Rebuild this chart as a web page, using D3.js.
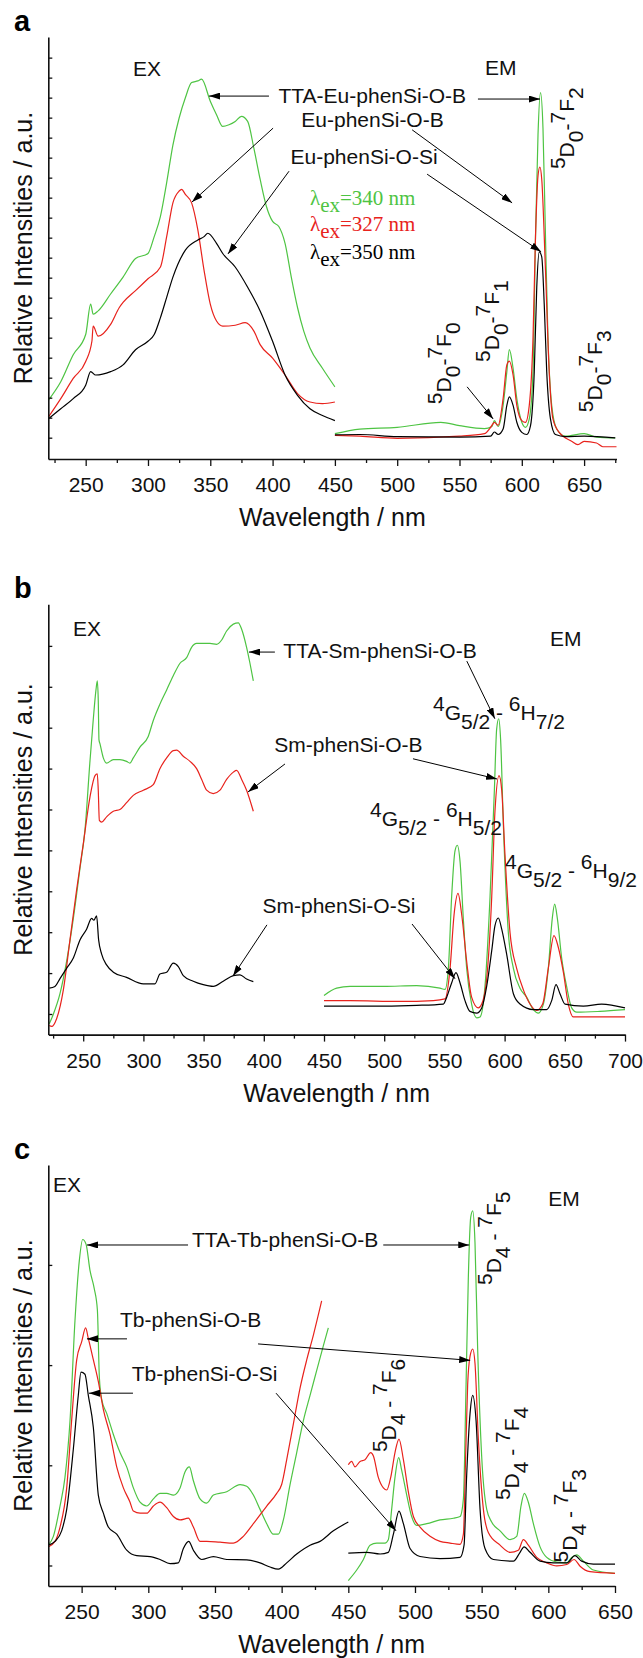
<!DOCTYPE html>
<html>
<head>
<meta charset="utf-8">
<script src="https://cdn.jsdelivr.net/npm/d3@7"></script>
<style>
  body { margin: 0; background: #fff; }
  svg text { font-family: "Liberation Sans", Arial, Helvetica, sans-serif; white-space: pre; }
</style>
</head>
<body>
<div id="chart"></div>
<script>
// ---- panel a : Eu ----
const aMajor = [250, 300, 350, 400, 450, 500, 550, 600, 650];
const aMinor = [225, 275, 325, 375, 425, 475, 525, 575, 625, 675];
const aExGreen = [[220,13.9],[230,18.3],[240,24.7],[250,29.5],[254,36.7],[256,34.3],[260,35.1],[270,39.1],[280,43.1],[290,47.5],[300,48.7],[305,52.7],[310,57.5],[315,65.5],[320,74.4],[325,80.8],[330,85.6],[335,89.2],[340,89.6],[343,90.0],[350,84.8],[355,81.6],[360,78.8],[365,79.2],[370,80.0],[375,81.2],[380,80.0],[385,73.6],[390,66.3],[395,59.9],[400,56.3],[405,55.1],[410,51.1],[415,43.1],[420,35.9],[425,30.3],[430,26.3],[440,21.5],[450,17.1]];
const aExRed = [[220,9.9],[230,14.3],[240,19.1],[250,23.1],[255,27.9],[256,31.5],[260,29.1],[270,31.9],[277,35.9],[280,37.1],[290,39.9],[300,42.7],[310,45.5],[315,52.7],[320,60.7],[325,63.5],[327,63.9],[330,62.7],[335,60.7],[340,54.3],[345,44.7],[350,36.7],[355,32.7],[360,31.5],[370,31.7],[378,32.3],[385,30.3],[390,27.1],[400,23.9],[410,19.9],[420,15.5],[430,13.5],[440,13.1],[450,13.5]];
const aExBlack = [[220,9.5],[230,11.9],[240,14.3],[250,17.5],[254,20.7],[258,19.9],[270,20.7],[280,22.3],[290,25.9],[300,27.9],[305,29.5],[310,33.5],[315,38.3],[320,43.1],[330,49.5],[340,51.9],[345,52.7],[348,53.5],[355,51.1],[360,48.7],[370,45.5],[380,40.7],[390,35.1],[400,27.9],[410,19.9],[420,15.1],[430,11.9],[440,10.3],[450,9.1]];
const aEmGreen = [[450,6.0],[470,7.1],[500,7.5],[535,8.7],[550,7.9],[570,7.2],[576,7.7],[578,9.1],[581,7.7],[585,12.7],[588,20.7],[590,25.9],[593,21.5],[596,14.3],[600,8.7],[603,7.5],[606,9.5],[609,20.7],[611,52.7],[613,76.8],[615,86.8],[617,78.4],[619,52.7],[621,28.7],[624,12.7],[628,7.1],[635,5.4],[650,6.0],[660,5.2],[675,5.0]];
const aEmRed = [[450,5.6],[470,5.4],[500,4.9],[550,5.4],[570,6.0],[575,7.5],[578,8.7],[581,8.0],[585,14.3],[588,22.3],[590,23.2],[593,19.9],[596,12.7],[600,9.1],[603,8.7],[606,12.7],[609,28.7],[611,52.7],[613,67.1],[614.5,69.2],[616,66.3],[619,44.7],[622,20.7],[625,9.5],[630,6.3],[640,4.2],[645,3.4],[650,4.2],[660,3.8],[665,2.9],[676,2.9]];
const aEmBlack = [[450,5.7],[470,5.8],[500,5.3],[550,5.2],[575,5.4],[578,6.4],[581,5.8],[585,7.1],[588,12.7],[590,14.7],[593,12.7],[596,8.7],[600,6.3],[604,5.8],[607,7.9],[610,20.7],[612,40.7],[614,49.1],[616,47.9],[618,36.7],[620,20.7],[623,9.5],[627,5.8],[635,5.3],[650,5.4],[675,5.0]];

// ---- panel b : Sm ----
const bMajor = [250, 300, 350, 400, 450, 500, 550, 600, 650, 700];
const bMinor = [225, 275, 325, 375, 425, 475, 525, 575, 625, 675];
const bExGreen = [[221.8,2.5],[225,4.6],[230.7,9.5],[236.2,17.0],[241.8,27.0],[247.3,38.6],[251.5,47.7],[255.6,63.5],[258.4,73.4],[260.6,80.1],[261.7,82.2],[262.5,77.6],[263.1,68.5],[263.9,67.6],[266.7,64.3],[269.4,63.1],[275,63.9],[280.5,63.9],[286,63.5],[288.8,63.1],[291.6,64.3],[297.1,66.8],[304,69.3],[308.2,73.0],[313.7,76.8],[319.3,80.1],[324.8,83.4],[330.4,86.3],[335.9,87.6],[340,90.0],[344.2,90.9],[349.7,90.9],[355.3,90.9],[360.8,90.7],[365,91.7],[369.1,93.8],[374.7,95.4],[378.8,95.7],[381.6,94.2],[385.7,90.0],[388.5,86.3],[391.3,82.2]];
const bExRed = [[221.8,2.1],[223.8,1.9],[227.9,3.7],[233.5,10.4],[239,22.0],[244.5,33.6],[250.1,44.4],[255.6,55.2],[259.8,60.2],[261.7,60.6],[262.5,56.8],[263.4,49.8],[265.3,49.4],[269.4,50.6],[275,51.9],[280.5,52.3],[286,53.9],[291.6,55.6],[299.9,56.8],[308.2,58.1],[313.7,61.8],[319.3,64.3],[324.8,66.0],[327.6,66.1],[333.1,64.7],[338.7,63.5],[344.2,61.8],[348.4,59.3],[352.5,56.8],[358,56.0],[363.6,56.8],[369.1,59.3],[374.7,61.0],[377.4,61.4],[381.6,59.3],[385.7,56.8],[391.3,51.9]];
const bExBlack = [[221.8,10.8],[226.5,11.2],[230.7,13.0],[236.2,15.4],[241.8,17.8],[247.3,22.0],[252.8,24.5],[257,27.0],[258.9,26.6],[261.1,27.6],[262.8,22.0],[265.3,18.7],[269.4,16.2],[275,14.5],[286,13.3],[299.9,11.8],[309.6,11.8],[313.7,14.1],[319.3,14.5],[324.8,16.6],[329,15.8],[333.1,13.7],[341.4,12.4],[349.7,11.6],[358,11.2],[366.3,12.4],[374.7,13.7],[380.2,13.9],[385.7,12.9],[391.3,12.3]];
const bEmGreen = [[450,9.1],[460.5,10.8],[471.6,11.2],[499.3,11.2],[527,11.4],[546.3,10.8],[550.5,10.5],[553.3,15.4],[556,32.0],[558.8,42.7],[560.7,44.0],[563,40.2],[565.7,27.0],[568.5,15.4],[572.6,7.1],[576.8,3.9],[579.6,4.1],[583.7,11.2],[587.9,32.0],[591.5,56.8],[593.4,71.0],[595.1,73.4],[596.7,68.5],[599,48.5],[603.1,23.7],[607.3,15.4],[612.8,10.8],[618.3,8.7],[623.9,5.8],[628,5.0],[632.2,7.1],[636.3,15.4],[639.6,27.0],[641.6,30.3],[643.8,27.0],[647.4,17.8],[651.5,11.2],[655.7,6.2],[659.9,5.2],[679.2,5.4],[700,5.8]];
const bEmRed = [[450,7.9],[471.6,7.9],[513.1,7.7],[540.8,7.9],[550.5,8.3],[554.7,15.4],[558,27.8],[561.3,32.8],[564.4,27.8],[568.5,17.0],[572.6,8.7],[578.2,6.2],[581,7.1],[585.1,12.9],[589.3,32.0],[592,51.9],[595.4,60.2],[597.6,56.8],[600.3,41.9],[604.5,23.7],[610,15.4],[615.6,10.4],[621.1,7.1],[626.6,5.6],[631.6,7.1],[636.3,15.4],[641,23.0],[644.6,20.3],[648.8,14.5],[652.9,7.1],[657.1,4.1],[665.4,4.1],[700,4.1]];
const bEmBlack = [[450,6.6],[485.4,6.6],[527,6.8],[549.1,7.1],[551.9,8.7],[556,12.0],[559.6,14.4],[563,12.0],[567.1,7.9],[571.2,5.4],[576.8,5.0],[581,6.2],[585.1,11.2],[589.3,19.5],[592,25.3],[594.8,27.1],[597.6,24.5],[601.7,18.7],[607.3,9.5],[612.8,7.1],[623.9,5.8],[634.9,5.8],[639.1,7.9],[642.7,11.6],[646,9.5],[650.2,7.1],[665.4,6.6],[680.6,7.1],[700,6.2]];

// ---- panel c : Tb ----
const cMajor = [250, 300, 350, 400, 450, 500, 550, 600, 650];
const cMinor = [275, 325, 375, 425, 475, 525, 575, 625];
const cExGreen = [[225,9.7],[228.8,11.8],[233.8,19.0],[237.5,25.8],[241.3,39.3],[245,63.0],[248.3,77.4],[250.8,82.3],[253.3,81.2],[256.3,74.9],[259.5,70.6],[261.8,65.6],[263.3,49.5],[265,44.4],[268.8,41.0],[273.8,36.0],[278.8,31.7],[283.8,28.3],[288.8,23.3],[293.8,19.9],[298.8,19.0],[303.8,20.7],[308.8,22.0],[313.8,22.0],[318.8,21.6],[323.8,23.3],[327.5,27.1],[330.8,28.3],[333.8,25.0],[338.8,20.7],[343.8,19.7],[348.8,21.6],[358.8,22.4],[368.8,24.1],[373.8,23.7],[378.8,21.6],[383.8,18.2],[388.8,14.8],[393.8,12.3],[397.5,12.3],[401.3,15.7],[406.3,24.1],[411.3,31.7],[416.3,39.3],[421.3,45.3],[426.3,51.2],[431.3,57.1],[435,61.3]];
const cExRed = [[225,9.3],[230,10.6],[233.8,14.0],[238.8,23.3],[242.5,39.3],[246.3,53.7],[250,58.0],[253,61.3],[255,58.8],[258.8,53.7],[262.5,48.6],[266.3,41.9],[271.3,36.0],[276.3,28.3],[281.3,23.3],[286.3,19.9],[288.8,17.8],[293.8,17.3],[298.8,17.3],[303.8,19.0],[308.8,19.9],[313.8,18.6],[318.8,16.5],[323.8,15.7],[330,16.1],[333.8,14.0],[338.8,10.6],[343.8,10.6],[353.8,10.4],[363.8,10.2],[371.3,11.8],[378.8,14.8],[388.8,19.0],[396.3,22.0],[400,24.1],[403.8,30.0],[408.8,38.5],[413.8,47.0],[418.8,53.7],[423.8,59.6],[430,67.7]];
const cExBlack = [[225,9.7],[230,10.6],[235,13.1],[238.8,18.2],[243.8,32.6],[247.5,45.3],[249.5,50.8],[252.5,50.3],[255,45.3],[258.8,37.6],[262.5,21.6],[266.3,17.3],[270,14.0],[276.3,12.3],[283.8,8.5],[291.3,7.2],[301.3,7.0],[308.8,6.3],[316.3,5.3],[322.5,5.5],[326.3,8.9],[330.3,10.6],[333.8,8.5],[340,6.3],[348.8,7.0],[358.8,6.3],[373.8,6.2],[383.8,5.5],[391.3,4.5],[397.5,4.0],[403.8,5.5],[411.3,7.6],[421.3,9.7],[428.8,10.6],[438.8,13.1],[450,15.2]];
const cEmGreen = [[450,1.3],[456.3,3.8],[461.3,6.3],[466.3,9.7],[471.3,10.2],[477.5,10.2],[480,11.0],[482.5,18.2],[485,25.8],[487.8,30.5],[490,27.5],[493.8,21.6],[497.5,16.5],[501.3,14.4],[508.8,14.8],[518.8,15.7],[528.8,16.1],[533.8,16.5],[536.3,20.7],[538.3,47.8],[540,73.2],[541.8,87.6],[543.3,89.1],[545,81.6],[547,56.3],[550,30.9],[553.8,18.2],[557.5,15.2],[563.8,13.1],[571.3,11.0],[576.3,11.8],[579.5,19.0],[582,22.0],[585,19.9],[588.8,14.8],[593.8,9.3],[598.8,6.8],[606.3,5.7],[613.8,5.5],[617.5,6.8],[621.3,7.4],[626.3,5.9],[633.8,3.8],[650,3.0]];
const cEmRed = [[450,28.8],[452.5,29.6],[455,28.3],[458.8,29.6],[462.5,30.0],[466.8,31.7],[468.8,30.9],[472.5,25.8],[476.3,23.3],[478.8,22.8],[481.8,25.8],[485,31.7],[488,34.9],[491.3,30.0],[495,22.4],[498.8,16.5],[503.8,14.0],[511.3,11.8],[518.8,10.6],[526.3,10.2],[533.8,9.9],[536.3,12.3],[538,30.9],[539.5,47.8],[541.3,54.6],[543.3,56.3],[545,52.9],[547.5,35.1],[551.3,18.2],[555,12.7],[563.8,9.7],[571.3,8.0],[577.5,8.5],[581.3,11.0],[585,9.7],[591.3,6.8],[598.8,5.5],[606.3,4.8],[613.8,5.1],[619.3,6.3],[623.8,4.7],[631.3,3.4],[650,3.0]];
const cEmBlack = [[450,7.8],[463.8,8.0],[473.8,7.6],[480,8.0],[483.8,12.3],[488,17.8],[491.3,14.8],[496.3,8.9],[503.8,7.0],[518.8,6.5],[533.8,6.8],[536.8,9.7],[538.8,26.6],[541.3,41.0],[543.3,45.3],[545.8,39.3],[548.8,18.2],[552.5,8.9],[558.8,6.3],[573.8,5.9],[578.8,8.0],[581.8,9.3],[586.3,8.0],[593.8,5.9],[603.8,5.5],[613.8,5.5],[620,7.2],[625,5.9],[633.8,5.2],[650,5.2]];

const green = '#4ec443', red = '#e8221c', black = '#000';

// annotations, in data units (wavelength, % of axis height)
const aNotes = [['EX', 288, 90.8, 'start'], ['EM', 570.5, 91.0, 'start'],
  ['TTA-Eu-phenSi-O-B', 480, 84.4, 'middle'], ['Eu-phenSi-O-B', 480.2, 78.7, 'middle'], ['Eu-phenSi-O-Si', 473.4, 69.9, 'middle']];
const aArrows = [[397.1, 86, 349, 86], [564.8, 85.3, 614.6, 85.3], [400.4, 78.4, 335.3, 60.9], [512, 78.0, 592.2, 60.7],
  [413.2, 68.2, 364.2, 48.6], [524.0, 67.5, 615.5, 49.1], [556.1, 17.1, 577, 9.5]];
const aLambda = [['340', green, 430, 60.2], ['327', red, 430, 54.0], ['350', black, 430, 47.4]];
const aRot = [[641.9, 68.7, '5D0-7F2'], [582.1, 23.0, '5D0-7F1'], [543.2, 13.0, '5D0-7F0'], [664.4, 11.1, '5D0-7F3']];

const bNotes = [['EX', 241.5, 92.7, 'start'], ['EM', 637.7, 90.4, 'start'],
  ['TTA-Sm-phenSi-O-B', 496.5, 87.5, 'middle'], ['Sm-phenSi-O-B', 470.3, 65.6, 'middle'], ['Sm-phenSi-O-Si', 462.4, 28.3, 'middle']];
const bArrows = [[409.2, 88.9, 387.7, 88.9], [568.6, 86.8, 591.9, 73.4], [417.6, 62.9, 386.9, 56.4], [523.9, 64.1, 593.7, 59.4],
  [402.6, 25.5, 374.4, 13.6], [523.1, 25.7, 558.8, 13.0]];
const bTerms = [[540.5, 73.1, '7/2'], [488.2, 48.5, '5/2'], [600.3, 36.5, '9/2']];

const cNotes = [['EX', 228.5, 93.5, 'start'], ['EM', 600, 90.3, 'start'],
  ['TTA-Tb-phenSi-O-B', 402.6, 80.5, 'middle'], ['Tb-phenSi-O-B', 331.7, 61.6, 'middle'], ['Tb-phenSi-O-Si', 342.2, 48.7, 'middle']];
const cArrows = [[329.8, 81, 254, 81], [476.2, 81, 540.7, 81], [284, 58.7, 254, 58.7], [382.3, 57.5, 541.4, 53.6],
  [288.5, 45.8, 255.5, 45.8], [395.8, 45.8, 485.8, 13.1]];
const cRot = [[564.6, 71.5, '5D4 - 7F5'], [485.8, 31.8, '5D4 - 7F6'], [578.1, 20.4, '5D4 - 7F4'], [621.6, 5.6, '5D4 - 7F3']];

const panels = [
  { tag: 'a', top: 37, bottom: 459, left: 48.3, right: 616.5, xDom: [220, 676], major: aMajor, minor: aMinor,
    yTicks: d3.range(20).map((i) => 5.05 + i * 4.74),
    series: [[aExGreen, green], [aExRed, red], [aExBlack, black], [aEmGreen, green], [aEmRed, red], [aEmBlack, black]],
    notes: aNotes, arrows: aArrows },
  { tag: 'b', top: 604.3, bottom: 1034.6, left: 48.3, right: 625, xDom: [221, 700], major: bMajor, minor: bMinor,
    yTicks: d3.range(10).map((i) => 4.79 + i * 9.505),
    series: [[bExGreen, green], [bExRed, red], [bExBlack, black], [bEmGreen, green], [bEmRed, red], [bEmBlack, black]],
    notes: bNotes, arrows: bArrows },
  { tag: 'c', top: 1165, bottom: 1586, left: 48.3, right: 615, xDom: [225, 650], major: cMajor, minor: cMinor,
    yTicks: d3.range(4).map((i) => 4.87 + i * 23.8),
    series: [[cExGreen, green], [cExRed, red], [cExBlack, black], [cEmGreen, green], [cEmRed, red], [cEmBlack, black]],
    notes: cNotes, arrows: cArrows }
];

const svg = d3.select('#chart').append('svg').attr('width', 643).attr('height', 1658);

svg.append('defs').append('marker')
  .attr('id', 'head')
  .attr('viewBox', '0 0 11 7')
  .attr('refX', 11).attr('refY', 3.5)
  .attr('markerUnits', 'userSpaceOnUse')
  .attr('markerWidth', 11).attr('markerHeight', 7)
  .attr('orient', 'auto')
  .append('path').attr('d', 'M0,0L11,3.5L0,7Z').attr('fill', '#000');

// superscript / subscript helper: segments of [text, shift]
function rich(text, segs) {
  let cur = 0;
  segs.forEach(([s, sh]) => {
    text.append('tspan').attr('dy', sh - cur).text(s);
    cur = sh;
  });
}
// "5D0-7F2" -> ^5 D _0 - ^7 F _2
function termSegs(str) {
  const m = str.match(/^(\d)(\D)(\d)(.*?)(\d)(\D)(\d)$/);
  return [[m[1], -9], [m[2], 0], [m[3], 9], [m[4], 0], [m[5], -9], [m[6], 0], [m[7], 9]];
}

panels.forEach((p) => {
  const x = d3.scaleLinear().domain(p.xDom).range([p.left, p.right]);
  const y = d3.scaleLinear().domain([0, 100]).range([p.bottom, p.top]);
  const g = svg.append('g');
  p.x = x; p.y = y; p.g = g;

  // curves
  const line = d3.line().x((d) => x(d[0])).y((d) => y(d[1])).curve(d3.curveMonotoneX);
  p.series.forEach(([data, col]) => {
    g.append('path').attr('d', line(data)).attr('fill', 'none')
      .attr('stroke', col).attr('stroke-width', 1.2);
  });

  // axes
  const minorAx = g.append('g').attr('transform', `translate(0,${p.bottom})`)
    .call(d3.axisBottom(x).tickValues(p.minor).tickSize(4).tickFormat(''));
  minorAx.select('.domain').remove();
  const majorAx = g.append('g').attr('transform', `translate(0,${p.bottom})`)
    .call(d3.axisBottom(x).tickValues(p.major).tickSize(7).tickSizeOuter(0).tickFormat(d3.format('d')));
  majorAx.selectAll('text').attr('y', 18).attr('font-size', 21).attr('fill', '#111')
    .style('font-family', '"Liberation Sans", Arial, sans-serif');
  const yAx = g.append('g').attr('transform', `translate(${p.left},0)`)
    .call(d3.axisLeft(y).tickValues(p.yTicks).tickSize(-4).tickSizeOuter(0).tickFormat(''));
  [minorAx, majorAx, yAx].forEach((a) => {
    a.selectAll('line').attr('stroke', '#111').attr('stroke-width', 1.3);
    a.select('.domain').attr('stroke', '#111').attr('stroke-width', 1.6);
  });

  // titles
  g.append('text').attr('x', (p.left + p.right) / 2).attr('y', p.bottom + 67)
    .attr('text-anchor', 'middle').attr('font-size', 25).attr('fill', '#111').text('Wavelength / nm');
  g.append('text')
    .attr('transform', `translate(32,${(p.top + p.bottom) / 2}) rotate(-90)`)
    .attr('text-anchor', 'middle').attr('font-size', 25).attr('fill', '#111')
    .text('Relative Intensities / a.u.');
  g.append('text').attr('x', 14).attr('y', p.top - 6).attr('font-size', 29)
    .attr('font-weight', 'bold').attr('fill', '#000').text(p.tag);

  // notes and arrows
  p.notes.forEach(([t, nm, v, anchor]) => {
    g.append('text').attr('x', x(nm)).attr('y', y(v)).attr('text-anchor', anchor)
      .attr('font-size', 21).attr('fill', '#111').text(t);
  });
  p.arrows.forEach(([x1, y1, x2, y2]) => {
    g.append('line').attr('x1', x(x1)).attr('y1', y(y1)).attr('x2', x(x2)).attr('y2', y(y2))
      .attr('stroke', '#000').attr('stroke-width', 1).attr('marker-end', 'url(#head)');
  });
});

// panel a extras
const pa = panels[0];
aLambda.forEach(([val, col, nm, v]) => {
  const t = pa.g.append('text').attr('x', pa.x(nm)).attr('y', pa.y(v)).attr('fill', col)
    .attr('font-size', 21).style('font-family', '"Liberation Serif", "Times New Roman", serif');
  rich(t, [['λ', 0], ['ex', 7], [`=${val} nm`, 0]]);
});
aRot.forEach(([nm, v, s]) => {
  const t = pa.g.append('text').attr('transform', `translate(${pa.x(nm)},${pa.y(v)}) rotate(-90)`)
    .attr('font-size', 21).attr('fill', '#111');
  rich(t, termSegs(s));
});

// panel b extras
const pb = panels[1];
bTerms.forEach(([nm, v, j]) => {
  const t = pb.g.append('text').attr('x', pb.x(nm)).attr('y', pb.y(v)).attr('font-size', 21).attr('fill', '#111');
  rich(t, [['4', -9], ['G', 0], ['5/2', 9], [' - ', 0], ['6', -9], ['H', 0], [j, 9]]);
});

// panel c extras
const pc = panels[2];
cRot.forEach(([nm, v, s]) => {
  const t = pc.g.append('text').attr('transform', `translate(${pc.x(nm)},${pc.y(v)}) rotate(-90)`)
    .attr('font-size', 21).attr('fill', '#111');
  rich(t, termSegs(s));
});
</script>
</body>
</html>
